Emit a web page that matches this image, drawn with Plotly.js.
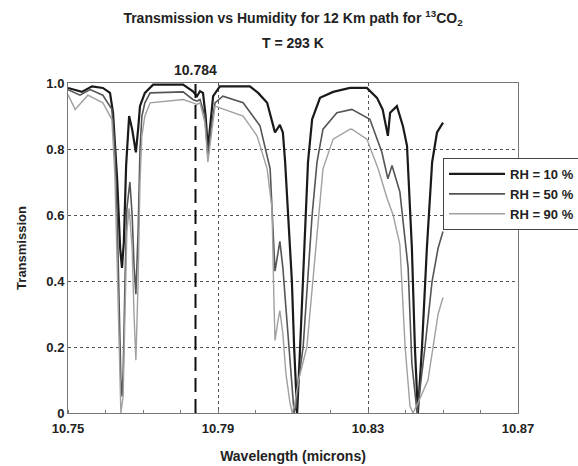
<!DOCTYPE html>
<html>
<head>
<meta charset="utf-8">
<script src="https://cdn.plot.ly/plotly-3.0.1.min.js"></script>
<style>html,body{margin:0;padding:0;background:#fff;}#chart{width:578px;height:466px;}</style>
</head>
<body>
<div id="chart"></div>
<script>
// RH = 10 %
const wl10 = [10.75,10.7537,10.7564,10.7593,10.7612,10.762,10.7631,10.7639,10.7644,10.7649,10.7655,10.7663,10.7671,10.7681,10.7687,10.7692,10.7705,10.7727,10.7807,10.7833,10.7844,10.7852,10.786,10.7867,10.7873,10.7881,10.7887,10.7905,10.7985,10.8007,10.8031,10.8045,10.8052,10.8065,10.8073,10.8079,10.8087,10.8097,10.8103,10.8111,10.8119,10.8127,10.8135,10.814,10.8151,10.8172,10.8207,10.8252,10.8297,10.8324,10.8339,10.8353,10.8359,10.8377,10.8393,10.8404,10.8417,10.8425,10.8433,10.8444,10.8457,10.8471,10.8484,10.85];
const t10  = [0.985,0.973,0.99,0.985,0.97,0.91,0.71,0.50,0.44,0.52,0.75,0.90,0.86,0.79,0.86,0.93,0.97,0.995,0.995,0.975,0.96,0.975,0.97,0.90,0.80,0.88,0.96,0.99,0.99,0.97,0.94,0.88,0.85,0.873,0.85,0.76,0.61,0.40,0.20,0.0,0.20,0.40,0.60,0.76,0.89,0.955,0.973,0.985,0.985,0.955,0.92,0.84,0.91,0.93,0.87,0.81,0.50,0.20,0.0,0.20,0.50,0.76,0.85,0.88];
// RH = 50 %
const wl50 = [10.75,10.7532,10.7559,10.7593,10.7617,10.7625,10.7631,10.7636,10.7641,10.7644,10.7647,10.7652,10.7657,10.7665,10.7671,10.7676,10.7681,10.7687,10.7692,10.7697,10.7705,10.7719,10.7807,10.7833,10.7844,10.7852,10.7865,10.7873,10.7881,10.7892,10.7913,10.7967,10.8012,10.8039,10.8047,10.8052,10.8065,10.8073,10.8081,10.8092,10.81,10.8103,10.8108,10.8115,10.8127,10.814,10.8151,10.8164,10.818,10.8217,10.8252,10.8257,10.8305,10.8337,10.8353,10.8364,10.8385,10.8407,10.8417,10.8431,10.8452,10.8471,10.8487,10.85];
const t50  = [0.98,0.963,0.98,0.963,0.92,0.80,0.60,0.35,0.10,0.05,0.12,0.40,0.62,0.70,0.60,0.45,0.36,0.55,0.80,0.90,0.94,0.97,0.973,0.95,0.945,0.95,0.90,0.78,0.86,0.94,0.96,0.94,0.87,0.74,0.55,0.43,0.52,0.44,0.32,0.15,0.02,0.0,0.02,0.10,0.20,0.40,0.60,0.76,0.86,0.91,0.92,0.92,0.89,0.79,0.71,0.75,0.67,0.44,0.15,0.0,0.20,0.40,0.50,0.55];
// RH = 90 %
const wl90 = [10.75,10.7519,10.7553,10.7593,10.7617,10.7625,10.7631,10.7636,10.7641,10.7647,10.7652,10.7657,10.7663,10.7671,10.7676,10.7681,10.7687,10.7692,10.7697,10.7705,10.7719,10.7807,10.7833,10.7844,10.7852,10.7865,10.7873,10.7881,10.7892,10.7967,10.8004,10.8031,10.8044,10.8049,10.8052,10.806,10.8065,10.8073,10.8081,10.8092,10.8098,10.8105,10.8115,10.8137,10.8153,10.8167,10.818,10.8207,10.8252,10.8257,10.8297,10.8327,10.8351,10.8367,10.8385,10.8399,10.8412,10.842,10.8433,10.846,10.8473,10.8487,10.85];
const t90  = [0.965,0.92,0.963,0.94,0.89,0.72,0.45,0.20,0.0,0.05,0.30,0.55,0.62,0.50,0.30,0.16,0.40,0.70,0.84,0.90,0.94,0.95,0.94,0.935,0.94,0.88,0.76,0.84,0.93,0.90,0.84,0.74,0.62,0.35,0.22,0.28,0.31,0.24,0.12,0.03,0.0,0.03,0.10,0.20,0.40,0.60,0.74,0.83,0.86,0.86,0.83,0.74,0.65,0.60,0.51,0.20,0.02,0.0,0.03,0.10,0.20,0.30,0.35];

const seriesNames = ['RH = 10 %','RH = 50 %','RH = 90 %'];
const markerWl = 10.784;
const xTickVals = [10.75,10.79,10.83,10.87];
const xTickText = ['10.75','10.79','10.83','10.87'];
const yTickVals = [0,0.2,0.4,0.6,0.8,1.0];
const yTickText = ['0','0.2','0.4','0.6','0.8','1.0'];

const F = 'Liberation Sans, Arial, sans-serif';
const traces = [
  {x: wl10, y: t10, name: seriesNames[0], mode: 'lines', line: {color: '#1a1a1a', width: 2.2}},
  {x: wl50, y: t50, name: seriesNames[1], mode: 'lines', line: {color: '#555555', width: 1.6}},
  {x: wl90, y: t90, name: seriesNames[2], mode: 'lines', line: {color: '#a0a0a0', width: 1.4}}
];

const layout = {
  width: 578, height: 466,
  margin: {l: 68, r: 60, t: 83, b: 53, autoexpand: false},
  paper_bgcolor: '#fff', plot_bgcolor: '#fff',
  showlegend: true,
  font: {family: F, color: '#222', size: 13},
  title: {text: '<b>Transmission vs Humidity for 12 Km path for <sup>13</sup>CO<sub>2</sub></b>',
          x: 0.5, xref: 'paper', xanchor: 'center', y: 1 - 18/466, yref: 'container', yanchor: 'middle',
          font: {family: F, size: 14, color: '#222'}},
  xaxis: {range: [10.75, 10.87], tickvals: xTickVals, ticktext: xTickText, automargin: false,
          showgrid: true, gridcolor: '#555', griddash: 'dot', gridwidth: 1,
          showline: true, linecolor: '#777', linewidth: 1, mirror: true,
          ticks: '', zeroline: false, ticklabelstandoff: 3,
          minor: {dtick: 0.01, tick0: 10.75, ticks: 'inside', ticklen: 3, tickcolor: '#777', showgrid: false},
          tickfont: {family: F, size: 13, color: '#222', weight: 'bold'},
          title: {text: '<b>Wavelength (microns)</b>', font: {family: F, size: 14, color: '#222'}, standoff: 16}},
  yaxis: {range: [0, 1], tickvals: yTickVals, ticktext: yTickText, automargin: false,
          showgrid: true, gridcolor: '#555', griddash: 'dot', gridwidth: 1,
          showline: true, linecolor: '#777', linewidth: 1, mirror: true,
          ticks: '', zeroline: false,
          tickfont: {family: F, size: 13, color: '#222', weight: 'bold'},
          title: {text: '<b>Transmission</b>', font: {family: F, size: 13, color: '#222'}, standoff: 16}},
  legend: {x: (443-68)/450, xanchor: 'left', y: (413-158)/330, yanchor: 'top',
           bgcolor: '#fff', bordercolor: '#444', borderwidth: 1,
           font: {family: F, size: 13, color: '#222', weight: 'bold'}, itemwidth: 56},
  shapes: [{type: 'line', xref: 'x', yref: 'y', x0: markerWl, x1: markerWl, y0: 0, y1: 1,
            line: {color: '#111', width: 2, dash: '14px,7px'}}],
  annotations: [
    {text: '<b>T = 293 K</b>', xref: 'paper', yref: 'paper', x: 0.5, y: 1, yanchor: 'middle', yshift: 40,
     showarrow: false, font: {family: F, size: 14, color: '#222'}},
    {text: '<b>10.784</b>', xref: 'x', yref: 'paper', x: markerWl, y: 1, yanchor: 'middle', yshift: 13,
     showarrow: false, font: {family: F, size: 14, color: '#222'}}
  ]
};

Plotly.newPlot('chart', traces, layout, {displayModeBar: false, staticPlot: true});
</script>
</body>
</html>
